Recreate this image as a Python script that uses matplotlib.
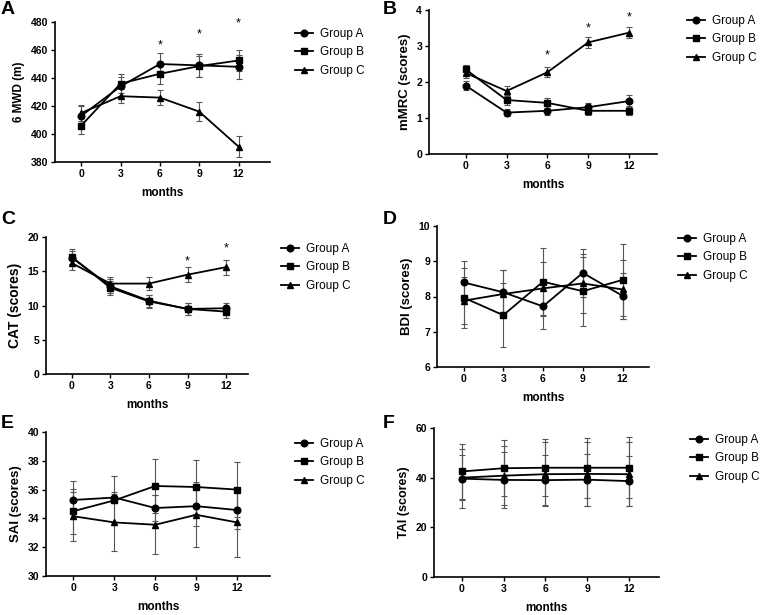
import matplotlib
matplotlib.use('Agg')
import matplotlib.pyplot as plt

plt.rcParams['font.family'] = ['Liberation Sans', 'DejaVu Sans']

months = [0, 3, 6, 9, 12]
groups = ['Group A', 'Group B', 'Group C']

# A: 6 MWD (m)
mwd_a = [413, 434, 450, 449, 448]
mwd_b = [406, 436, 443, 448.5, 452.5]
mwd_c = [415, 427, 426, 416, 391]
mwd_err_a = [7, 7, 7.5, 8, 8.5]
mwd_err_b = [6, 6.5, 7, 7.5, 7.5]
mwd_err_c = [6, 5, 5.5, 7, 7.5]

# B: mMRC (scores)
mmrc_a = [1.9, 1.15, 1.2, 1.3, 1.47]
mmrc_b = [2.35, 1.5, 1.42, 1.2, 1.2]
mmrc_c = [2.25, 1.75, 2.27, 3.1, 3.37]
mmrc_err_a = [0.12, 0.1, 0.12, 0.13, 0.16]
mmrc_err_b = [0.13, 0.15, 0.13, 0.12, 0.12]
mmrc_err_c = [0.14, 0.13, 0.14, 0.15, 0.15]

# C: CAT (scores)
cat_a = [17.0, 12.8, 10.7, 9.5, 9.6]
cat_b = [17.1, 12.6, 10.6, 9.5, 9.1]
cat_c = [16.2, 13.2, 13.2, 14.5, 15.6]
cat_err_a = [1.0, 1.0, 0.9, 0.9, 0.8]
cat_err_b = [1.1, 1.0, 0.9, 0.9, 0.9]
cat_err_c = [1.0, 1.0, 1.0, 1.1, 1.1]

# D: BDI (scores)
bdi_a = [8.4, 8.12, 7.72, 8.67, 8.02]
bdi_b = [7.97, 7.47, 8.42, 8.15, 8.47]
bdi_c = [7.88, 8.07, 8.23, 8.37, 8.2]
bdi_err_a = [0.6, 0.63, 0.64, 0.68, 0.65]
bdi_err_b = [0.85, 0.9, 0.97, 0.98, 1.03]
bdi_err_c = [0.67, 0.67, 0.75, 0.83, 0.84]

# E: SAI (scores)
sai_a = [35.28, 35.45, 34.72, 34.85, 34.58]
sai_b = [34.5, 35.25, 36.25, 36.18, 36.0]
sai_c = [34.15, 33.72, 33.56, 34.25, 33.72]
sai_err_a = [1.3, 0.4, 0.9, 1.4, 1.3]
sai_err_b = [1.55, 1.7, 1.85, 1.87, 1.9]
sai_err_c = [1.7, 2.0, 2.05, 2.25, 2.4]

# F: TAI (scores)
tai_a = [39.6, 39.1, 39.0, 39.2, 38.6]
tai_b = [42.5, 43.8, 44.0, 44.0, 44.0]
tai_c = [40.0, 40.8, 41.4, 41.5, 41.4]
tai_err_a = [11.8, 11.3, 10.0, 10.5, 10.0]
tai_err_b = [11.0, 11.2, 11.5, 12.0, 12.3]
tai_err_c = [9.0, 12.0, 12.8, 13.0, 12.8]

panels = [
    ('A', '6 MWD (m)', [mwd_a, mwd_b, mwd_c], [mwd_err_a, mwd_err_b, mwd_err_c],
     (380, 480), range(380, 481, 20), (-2, 14.4),
     [(6, 463), (9, 471), (12, 479)]),
    ('B', 'mMRC (scores)', [mmrc_a, mmrc_b, mmrc_c], [mmrc_err_a, mmrc_err_b, mmrc_err_c],
     (0, 4), range(0, 5), (-2.7, 14.06),
     [(6, 2.75), (9, 3.5), (12, 3.8)]),
    ('C', 'CAT (scores)', [cat_a, cat_b, cat_c], [cat_err_a, cat_err_b, cat_err_c],
     (0, 20), range(0, 21, 5), (-2, 13.7),
     [(9, 16.5), (12, 18.3)]),
    ('D', 'BDI (scores)', [bdi_a, bdi_b, bdi_c], [bdi_err_a, bdi_err_b, bdi_err_c],
     (6, 10), range(6, 11), (-2, 14), []),
    ('E', 'SAI (scores)', [sai_a, sai_b, sai_c], [sai_err_a, sai_err_b, sai_err_c],
     (30, 40), range(30, 41, 2), (-2, 14.4), []),
    ('F', 'TAI (scores)', [tai_a, tai_b, tai_c], [tai_err_a, tai_err_b, tai_err_c],
     (0, 60), range(0, 61, 20), (-2, 14.15), []),
]

# axes boxes in pixels: left, right, top, bottom
boxes = [(55, 270, 22, 162), (429, 657, 10, 154),
         (46, 248, 237, 374), (437, 649, 226, 367),
         (46, 270, 432, 576), (434, 659, 428, 577)]
legend_pos = [(295, 28), (687, 15), (281, 243), (678, 233), (295, 438), (690, 434)]
letter_pos = [(1, 1), (383, 1), (1, 211), (383, 211), (1, 415), (383, 415)]
ylabel_sizes = [8.5, 9.5, 10, 9.5, 9.5, 9]

W, H = 764, 615
fig = plt.figure(figsize=(W / 100, H / 100), dpi=100)
markers = ['o', 's', '^']

for (letter, ylabel, means, errs, ylim, yticks, xlim, stars), box, lp, tp, ys in zip(
        panels, boxes, legend_pos, letter_pos, ylabel_sizes):
    l, r, t, b = box
    ax = fig.add_axes([l / W, 1 - b / H, (r - l) / W, (b - t) / H])
    handles = []
    for name, m, e, mk in zip(groups, means, errs, markers):
        cont = ax.errorbar(months, m, yerr=e, color='black', ecolor='#555555',
                           elinewidth=0.8, capsize=2.5, capthick=0.8,
                           marker=mk, markersize=4.8, linewidth=1.3, label=name)
        handles.append(cont.lines[0])
    for sx, sy in stars:
        ax.text(sx, sy, '*', ha='center', va='center', fontsize=9)
    ax.set_xlim(*xlim)
    ax.set_ylim(*ylim)
    ax.set_xticks(months)
    ax.set_yticks(list(yticks))
    for side in ['top', 'right']:
        ax.spines[side].set_visible(False)
    for side in ['left', 'bottom']:
        ax.spines[side].set_linewidth(1.2)
    ax.tick_params(width=1.0, length=3, labelsize=7.5, pad=2)
    for lab in ax.get_xticklabels() + ax.get_yticklabels():
        lab.set_fontweight('bold')
    ax.set_xlabel('months', fontsize=8.5, fontweight='bold', labelpad=6)
    ax.set_ylabel(ylabel, fontsize=ys, fontweight='bold', labelpad=4)
    ax.legend(handles, groups, loc='upper left',
              bbox_to_anchor=(lp[0] / W, 1 - lp[1] / H),
              bbox_transform=fig.transFigure, frameon=False, fontsize=8.5,
              borderaxespad=0, borderpad=0, handlelength=1.5,
              handletextpad=0.6, labelspacing=0.55)
    fig.text(tp[0] / W, 1 - tp[1] / H, letter, fontsize=14, fontweight='bold',
             ha='left', va='top')

fig.savefig('out.png', dpi=100)
